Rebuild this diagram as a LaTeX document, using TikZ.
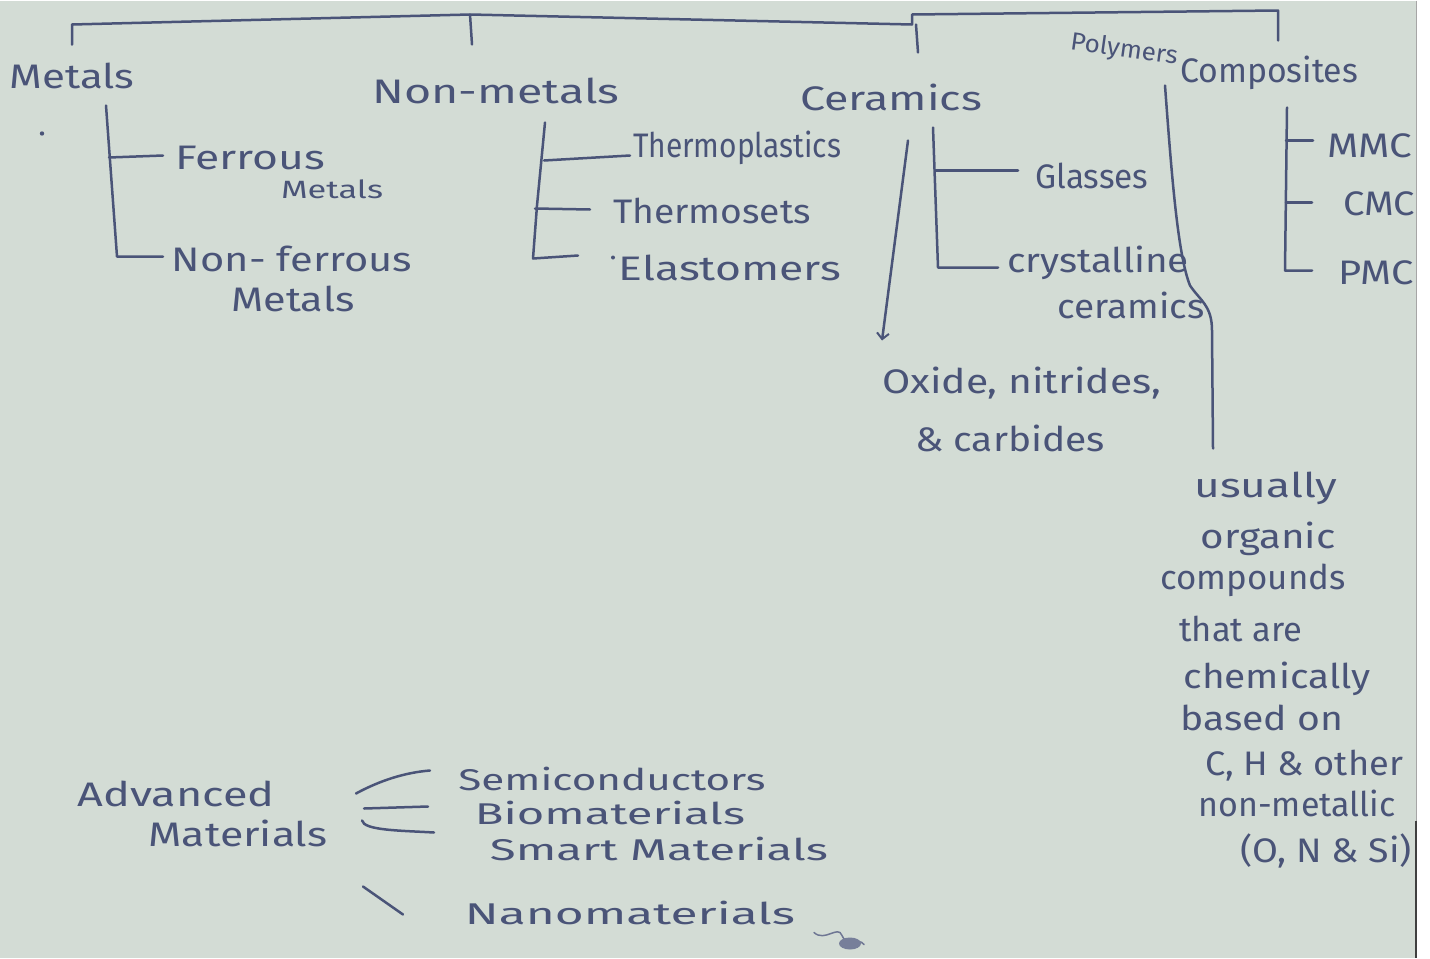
\documentclass[tikz,border=0pt]{standalone}
\usepackage{fontspec}
\setmainfont{Fira Sans}
\usetikzlibrary{arrows.meta}
\definecolor{paper}{HTML}{D3DCD5}
\definecolor{ink}{HTML}{4A5478}
\newcommand{\hw}[2]{\resizebox{#1pt}{\height}{#2}}
\begin{document}
\begin{tikzpicture}[x=1pt,y=-1pt,
  inkline/.style={draw=ink, line width=2.5pt, line cap=round, line join=round},
  lbl/.style={text=ink, inner sep=0pt, font=\fontsize{34}{36}\selectfont},
  mid/.style={text=ink, inner sep=0pt, font=\fontsize{30}{32}\selectfont},
  sm/.style={text=ink, inner sep=0pt, font=\fontsize{25}{27}\selectfont},
]
\fill[white] (0,0) rectangle (1430,957);
\fill[paper] (0,0) rectangle (1416,957);
\draw[black!35, line width=1pt] (1416,0) -- (1416,820);
\draw[black!75, line width=2pt] (1416,820) -- (1416,957);
\useasboundingbox (0,0) rectangle (1430,957);

% ---------- top categories ----------
\node[lbl] (met) at (72,75) {\hw{125}{Metals}};
\node[lbl] (nonmet) at (496,90) {\hw{247}{Non-metals}};
\node[lbl] (cer) at (891,97) {\hw{182}{Ceramics}};
\node[sm, rotate=-8] (poly) at (1124,50) {\hw{108}{Polymers}};
\node[lbl] (comp) at (1269,72) {\hw{178}{Composites}};

% top bracket
\coordinate (b1) at (72,44);
\coordinate (b1t) at (72,24);
\coordinate (b2t) at (470,14);
\coordinate (b2) at (472,44);
\coordinate (b3a) at (912,24);
\coordinate (b3b) at (912,14);
\coordinate (b3t) at (916,24);
\coordinate (b3) at (918,52);
\coordinate (b4t) at (1278,10);
\coordinate (b4) at (1278,40);
\draw[inkline] (b1) -- (b1t) -- (b2t) -- (b3a) -- (b3b) -- (b4t) -- (b4);
\draw[inkline] (b2t) -- (b2);
\draw[inkline] (b3t) -- (b3);

% ---------- metals ----------
\fill[ink] (42,133) circle (2.2pt);
\node[lbl] (fer) at (250,157) {\hw{150}{Ferrous}};
\node[sm] (ferm) at (332,189) {\hw{102}{Metals}};
\node[lbl] (nfer) at (292,258) {\hw{240}{Non- ferrous}};
\node[lbl] (nferm) at (293,298) {\hw{123}{Metals}};
\coordinate (m0) at (106,105);
\coordinate (m1) at (109,157);
\coordinate (m2) at (117,256);
\coordinate (m1e) at (163,155);
\coordinate (m2e) at (163,256);
\draw[inkline] (m0) -- (m2) -- (m2e);
\draw[inkline] (m1) -- (m1e);

% ---------- non-metals ----------
\node[lbl] (tp) at (737,147) {\hw{208}{Thermoplastics}};
\node[lbl] (ts) at (712,210) {\hw{198}{Thermosets}};
\node[lbl] (el) at (730,267) {\hw{222}{Elastomers}};
\fill[ink] (613,257) circle (2pt);
\coordinate (n0) at (545,122);
\coordinate (n1) at (544,160);
\coordinate (n2) at (537,205);
\coordinate (n2k) at (535,208);
\coordinate (n3) at (533,258);
\coordinate (n1e) at (630,155);
\coordinate (n2e) at (590,209);
\coordinate (n3e) at (578,255);
\draw[inkline] (n0) -- (n2) -- (n3) -- (n3e);
\draw[inkline] (n1) -- (n1e);
\draw[inkline] (n2k) -- (n2e);

% ---------- ceramics ----------
\node[lbl] (gl) at (1092,175) {\hw{113}{Glasses}};
\node[lbl] (cry) at (1098,262) {\hw{182}{crystalline}};
\node[lbl] (cer2) at (1131,305) {\hw{147}{ceramics}};
\node[lbl] (ox) at (1022,383) {\hw{279}{Oxide, nitrides,}};
\node[lbl] (carb) at (1010,438) {\hw{190}{\& carbides}};
\coordinate (c0) at (933,127);
\coordinate (c1) at (936,170);
\coordinate (c2) at (938,267);
\coordinate (c1e) at (1018,170);
\coordinate (c2e) at (998,267);
\draw[inkline] (c0) -- (c2) -- (c2e);
\draw[inkline] (c1) -- (c1e);
\coordinate (ca0) at (908,140);
\coordinate (ca1) at (882,340);
\draw[inkline, -{Straight Barb[length=6pt,width=12pt,line width=2pt]}] (ca0) -- (ca1);

% ---------- polymers ----------
\coordinate (p0) at (1165,85);
\coordinate (p1) at (1190,285);
\coordinate (p2) at (1212,330);
\coordinate (p3) at (1213,448);
\draw[inkline] (p0) .. controls (1172,180) and (1178,255) .. (p1)
  .. controls (1200,300) and (1212,305) .. (p2) -- (p3);
\node[lbl] (pd1) at (1266,488) {\hw{143}{usually}};
\node[lbl] (pd2) at (1268,538) {\hw{135}{organic}};
\node[lbl] (pd3) at (1253,580) {\hw{185}{compounds}};
\node[lbl] (pd4) at (1241,628) {\hw{123}{that are}};
\node[lbl] (pd5) at (1277,678) {\hw{187}{chemically}};
\node[lbl] (pd6) at (1262,717) {\hw{163}{based on}};
\node[lbl] (pd7) at (1304,765) {\hw{198}{C, H \& other}};
\node[lbl] (pd8) at (1297,803) {\hw{197}{non-metallic}};
\node[lbl] (pd9) at (1326,850) {\hw{172}{(O, N \& Si)}};

% ---------- composites ----------
\node[lbl] (mmc) at (1370,145) {\hw{85}{MMC}};
\node[lbl] (cmc) at (1379,203) {\hw{72}{CMC}};
\node[lbl] (pmc) at (1376,272) {\hw{75}{PMC}};
\coordinate (k0) at (1287,107);
\coordinate (k1) at (1286,140);
\coordinate (k2) at (1286,202);
\coordinate (k3) at (1285,270);
\coordinate (k1e) at (1313,140);
\coordinate (k2e) at (1312,202);
\coordinate (k3e) at (1312,270);
\draw[inkline] (k0) -- (k3) -- (k3e);
\draw[inkline] (k1) -- (k1e);
\draw[inkline] (k2) -- (k2e);

% ---------- advanced materials ----------
\node[lbl] (adv) at (176,793) {\hw{197}{Advanced}};
\node[lbl] (advm) at (238,833) {\hw{179}{Materials}};
\node[mid] (semi) at (612,778) {\hw{307}{Semiconductors}};
\node[mid] (bio) at (610,812) {\hw{270}{Biomaterials}};
\node[mid] (smart) at (659,848) {\hw{338}{Smart Materials}};
\node[mid] (nano) at (630,912) {\hw{330}{Nanomaterials}};
\coordinate (a1s) at (356,793);
\coordinate (a1e) at (430,770);
\coordinate (a2s) at (364,808);
\coordinate (a2e) at (428,806);
\coordinate (a3s) at (362,820);
\coordinate (a3e) at (434,832);
\coordinate (a4s) at (363,886);
\coordinate (a4e) at (403,914);
\draw[inkline] (a1s) .. controls (380,780) and (405,772) .. (a1e);
\draw[inkline] (a2s) -- (a2e);
\draw[inkline] (a3s) .. controls (364,830) and (400,830) .. (a3e);
\draw[inkline] (a4s) -- (a4e);

% scribble
\draw[ink!80, line width=1.5pt, line cap=round] (814,932) .. controls (825,942) and (838,924) .. (842,935)
  .. controls (848,948) and (858,936) .. (864,944);
\fill[ink!75] (850,943) ellipse (11pt and 6pt);
\end{tikzpicture}
\end{document}
